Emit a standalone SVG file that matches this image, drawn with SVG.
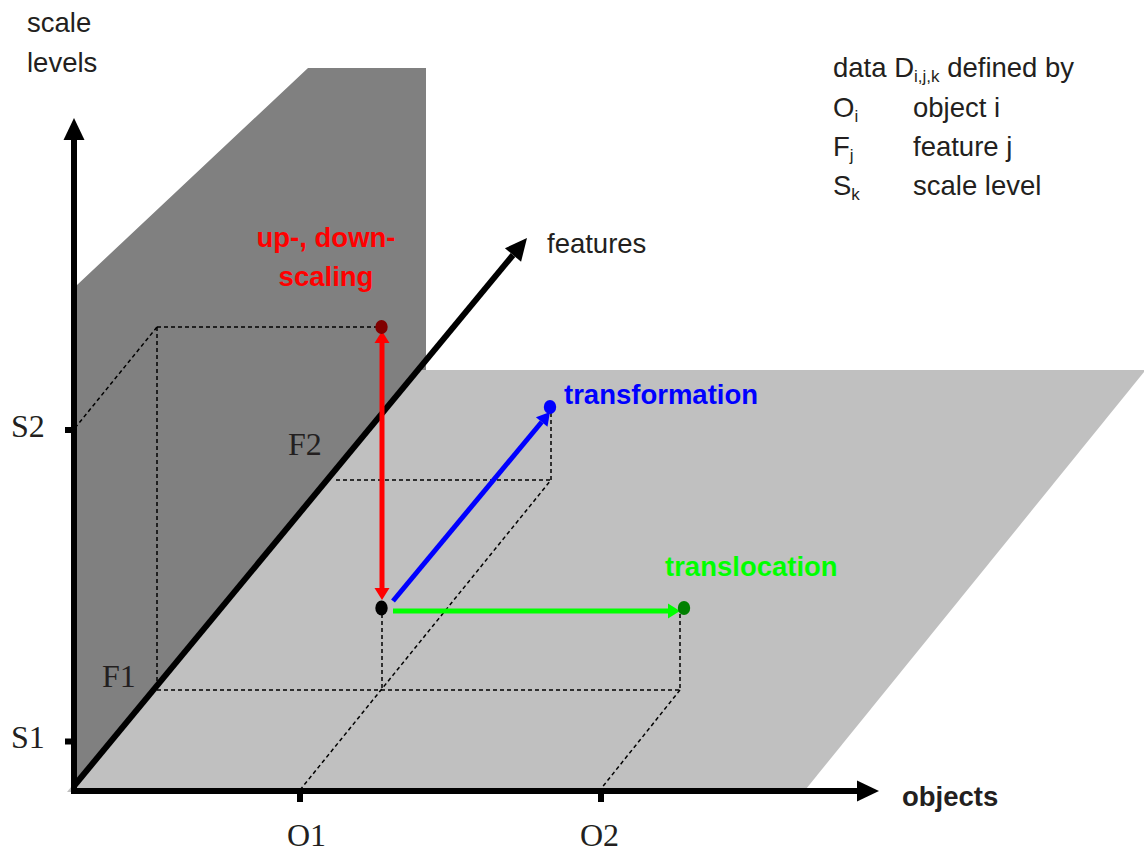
<svg xmlns="http://www.w3.org/2000/svg" width="1144" height="853" viewBox="0 0 1144 853">
  <style>
    .sans { font-family: "Liberation Sans", Arial, sans-serif; }
    .serif { font-family: "Liberation Serif", "Times New Roman", serif; font-size: 32px; fill: #231f20; }
    .axislabel { font-size: 27.5px; fill: #231f20; }
    .bold { font-weight: bold; font-size: 27.5px; }
    .sub { font-size: 17px; }
    .axis { stroke: #000; stroke-width: 6; fill: none; }
    .guide { stroke: #000; stroke-width: 1.5; stroke-dasharray: 4 3; fill: none; }
  </style>
  <defs>
    <marker id="axisHead" markerUnits="userSpaceOnUse" markerWidth="22" markerHeight="21" refX="0" refY="10.5" orient="auto" overflow="visible">
      <path d="M0,0 L22,10.5 L0,21 z" fill="#000"/>
    </marker>
    <marker id="redHead" markerUnits="userSpaceOnUse" markerWidth="12" markerHeight="15" refX="0" refY="7.5" orient="auto-start-reverse" overflow="visible">
      <path d="M0,0 L12,7.5 L0,15 z" fill="#ff0000"/>
    </marker>
    <marker id="blueHead" markerUnits="userSpaceOnUse" markerWidth="13" markerHeight="15" refX="0" refY="7.5" orient="auto" overflow="visible">
      <path d="M0,0 L13,7.5 L0,15 z" fill="#0000ff"/>
    </marker>
    <marker id="greenHead" markerUnits="userSpaceOnUse" markerWidth="12" markerHeight="15" refX="0" refY="7.5" orient="auto" overflow="visible">
      <path d="M0,0 L12,7.5 L0,15 z" fill="#00ff00"/>
    </marker>
  </defs>

  <rect width="1144" height="853" fill="#ffffff"/>

  <!-- planes -->
  <g id="plane-scale-features">
    <polygon points="77,285 308,68 426,68 426,370 416,370 74,786" fill="#808080"/>
  </g>
  <g id="plane-objects-features">
    <polygon points="67,792 416,370 1144,370 1144,372 806,789 67,792" fill="#c0c0c0"/>
  </g>

  <!-- dashed projection lines -->
  <g id="guides">
    <line class="guide" x1="75" y1="428" x2="157" y2="327"/>
    <line class="guide" x1="157" y1="327" x2="376" y2="327"/>
    <line class="guide" x1="157" y1="327" x2="157" y2="690"/>
    <line class="guide" x1="157" y1="690" x2="680" y2="690"/>
    <line class="guide" x1="382" y1="614" x2="382" y2="690"/>
    <line class="guide" x1="300" y1="790" x2="551" y2="480"/>
    <line class="guide" x1="336" y1="480" x2="551" y2="480"/>
    <line class="guide" x1="551" y1="413" x2="551" y2="480"/>
    <line class="guide" x1="680" y1="614" x2="680" y2="690"/>
    <line class="guide" x1="680" y1="690" x2="600" y2="790"/>
  </g>

  <!-- axes -->
  <g id="axes">
    <line class="axis" x1="74" y1="794" x2="74" y2="140" marker-end="url(#axisHead)"/>
    <line class="axis" x1="71" y1="791" x2="857" y2="791" marker-end="url(#axisHead)"/>
    <line class="axis" x1="74" y1="786" x2="513" y2="255" marker-end="url(#axisHead)"/>
    <!-- ticks -->
    <rect x="65" y="427" width="8" height="6" fill="#000"/>
    <rect x="65" y="738.5" width="8" height="6" fill="#000"/>
    <rect x="297" y="791" width="6" height="11" fill="#000"/>
    <rect x="598" y="791" width="6" height="11" fill="#000"/>
  </g>

  <!-- axis labels -->
  <g id="axis-labels">
    <text class="sans axislabel" x="27" y="32">scale</text>
    <text class="sans axislabel" x="27" y="72">levels</text>
    <text class="sans axislabel" x="547" y="253">features</text>
    <text class="sans bold" x="902" y="806" fill="#231f20">objects</text>
    <text class="serif" x="11" y="437">S2</text>
    <text class="serif" x="11" y="748">S1</text>
    <text class="serif" x="287" y="846">O1</text>
    <text class="serif" x="580" y="846">O2</text>
    <text class="serif" x="288" y="455" fill="#333333">F2</text>
    <text class="serif" x="102" y="687" fill="#333333">F1</text>
  </g>

  <!-- operations between data points -->
  <g id="connectors">
    <line x1="382" y1="343" x2="382" y2="588" stroke="#ff0000" stroke-width="5" marker-start="url(#redHead)" marker-end="url(#redHead)"/>
    <line x1="393" y1="601" x2="541.7" y2="422" stroke="#0000ff" stroke-width="5" marker-end="url(#blueHead)"/>
    <line x1="393" y1="611" x2="668" y2="611" stroke="#00ff00" stroke-width="5" marker-end="url(#greenHead)"/>
  </g>

  <!-- data points -->
  <g id="point-upper-scale">
    <ellipse cx="381.5" cy="327" rx="6.2" ry="7" fill="#800000"/>
  </g>
  <g id="point-origin">
    <ellipse cx="381.5" cy="608" rx="6.2" ry="7.5" fill="#000000"/>
  </g>
  <g id="point-transformed">
    <ellipse cx="550" cy="407" rx="6.2" ry="7" fill="#0000ff"/>
  </g>
  <g id="point-translocated">
    <ellipse cx="684" cy="608" rx="6.2" ry="7" fill="#008000"/>
  </g>

  <!-- operation labels -->
  <g id="label-scaling">
    <text class="sans bold" x="326" y="247" text-anchor="middle" fill="#ff0000">up-, down-</text>
    <text class="sans bold" x="326" y="286" text-anchor="middle" fill="#ff0000">scaling</text>
  </g>
  <g id="label-transformation">
    <text class="sans bold" x="564" y="404" fill="#0000ff">transformation</text>
  </g>
  <g id="label-translocation">
    <text class="sans bold" x="665" y="576" fill="#00ff00">translocation</text>
  </g>

  <!-- legend -->
  <g id="legend" class="sans axislabel">
    <text x="833" y="77">data D<tspan class="sub" dy="5">i,j,k</tspan><tspan dy="-5"> defined by</tspan></text>
    <text x="833" y="117">O<tspan class="sub" dy="5">i</tspan></text>
    <text x="913" y="117">object i</text>
    <text x="833" y="156">F<tspan class="sub" dy="5">j</tspan></text>
    <text x="913" y="156">feature j</text>
    <text x="833" y="195">S<tspan class="sub" dy="5">k</tspan></text>
    <text x="913" y="195">scale level</text>
  </g>
</svg>
